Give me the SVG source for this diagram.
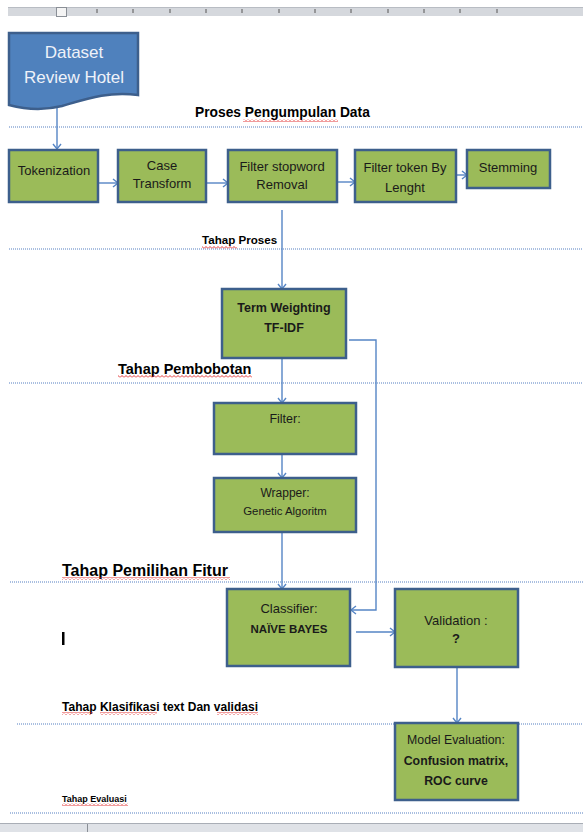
<svg xmlns="http://www.w3.org/2000/svg" width="583" height="832" viewBox="0 0 583 832">
<defs>
<style>
.box{fill:#9bbb59;stroke:#3d5f8c;stroke-width:2.5}
.t{font-family:"Liberation Sans",Arial,sans-serif;fill:#1a1a1a;text-anchor:middle}
.b{font-weight:bold}
.h{font-family:"Liberation Sans",Arial,sans-serif;font-weight:bold;fill:#000}
.sep{stroke:#8eaad6;stroke-width:1.6;stroke-dasharray:1 1;fill:none}
.c{stroke:#5585c5;stroke-width:1.4;fill:none}
.tick{stroke:#555;stroke-width:1}
</style>
<marker id="ah" markerWidth="8" markerHeight="10" refX="6" refY="5" orient="auto" markerUnits="userSpaceOnUse">
<path d="M1,1 L6,5 L1,9" fill="none" stroke="#5585c5" stroke-width="1.4"/>
</marker>
<pattern id="rw" width="4" height="3" patternUnits="userSpaceOnUse">
<path d="M0,2.5 L2,0.5 L4,2.5" fill="none" stroke="#e02020" stroke-width="0.9"/>
</pattern>
<pattern id="gw" width="4" height="3" patternUnits="userSpaceOnUse">
<path d="M0,2.5 L2,0.5 L4,2.5" fill="none" stroke="#3aa23a" stroke-width="0.9"/>
</pattern>
</defs>
<rect width="583" height="832" fill="#fff"/>
<g id="ruler">
<rect x="8" y="7" width="575" height="9" fill="#d5d8dd"/>
<line x1="8" y1="7.5" x2="583" y2="7.5" stroke="#b8bcc3"/>
<g class="tick">
<line x1="97" y1="9" x2="97" y2="13"/><line x1="133" y1="9" x2="133" y2="13"/><line x1="170" y1="9" x2="170" y2="13"/><line x1="206" y1="9" x2="206" y2="13"/><line x1="242" y1="9" x2="242" y2="13"/><line x1="279" y1="9" x2="279" y2="13"/><line x1="315" y1="9" x2="315" y2="13"/><line x1="351" y1="9" x2="351" y2="13"/><line x1="388" y1="9" x2="388" y2="13"/><line x1="424" y1="9" x2="424" y2="13"/><line x1="460" y1="9" x2="460" y2="13"/><line x1="497" y1="9" x2="497" y2="13"/>
</g>
<rect x="56.5" y="7.5" width="10" height="9" fill="#f4f4f4" stroke="#8a8f96"/>
</g>
<g id="separators">
<line class="sep" x1="9" y1="127" x2="583" y2="127"/>
<line class="sep" x1="9" y1="249" x2="583" y2="249"/>
<line class="sep" x1="9" y1="383" x2="583" y2="383"/>
<line class="sep" x1="10" y1="582" x2="583" y2="582"/>
<line class="sep" x1="17" y1="724" x2="583" y2="724"/>
<line class="sep" x1="10" y1="813" x2="583" y2="813"/>
</g>
<g id="labels">
<text class="h" x="195" y="117" font-size="13.8">Proses Pengumpulan Data</text>
<text class="h" x="202" y="244" font-size="11.6">Tahap Proses</text>
<text class="h" x="118" y="374" font-size="14.5">Tahap Pembobotan</text>
<text class="h" x="62" y="576" font-size="16">Tahap Pemilihan Fitur</text>
<text class="h" x="62" y="711" font-size="12" textLength="196">Tahap Klasifikasi text Dan validasi</text>
<text class="h" x="62" y="802" font-size="9">Tahap Evaluasi</text>
<rect x="62" y="632" width="2.5" height="13" fill="#000"/>
</g>
<g id="spellcheck">
<rect x="243" y="119" width="95" height="3" fill="url(#rw)"/>
<rect x="273" y="172" width="54" height="3" fill="url(#rw)"/>
<rect x="385" y="193" width="40" height="3" fill="url(#rw)"/>
<rect x="202" y="246" width="35" height="3" fill="url(#rw)"/>
<rect x="118" y="375" width="134" height="3" fill="url(#rw)"/>
<rect x="283" y="517" width="44" height="3" fill="url(#rw)"/>
<rect x="62" y="577" width="168" height="3" fill="url(#rw)"/>
<rect x="62" y="712" width="31" height="3" fill="url(#rw)"/>
<rect x="100" y="712" width="57" height="3" fill="url(#rw)"/>
<rect x="217" y="712" width="41" height="3" fill="url(#rw)"/>
<rect x="62" y="803" width="66" height="3" fill="url(#rw)"/>
<rect x="423" y="626" width="65" height="3" fill="url(#gw)"/>
</g>
<g id="connectors">
<path class="c" marker-end="url(#ah)" d="M57,108 V149"/>
<path class="c" marker-end="url(#ah)" d="M98,183 H118"/>
<path class="c" marker-end="url(#ah)" d="M206,183 H228"/>
<path class="c" marker-end="url(#ah)" d="M337,182 H355"/>
<path class="c" marker-end="url(#ah)" d="M456,175 H467"/>
<path class="c" marker-end="url(#ah)" d="M282,210 V289"/>
<path class="c" marker-end="url(#ah)" d="M282,358 V403"/>
<path class="c" marker-end="url(#ah)" d="M282,454 V478"/>
<path class="c" marker-end="url(#ah)" d="M282,532 V589"/>
<path class="c" marker-end="url(#ah)" d="M349,340 H376 V610 H351"/>
<path class="c" marker-end="url(#ah)" d="M356,632 H395"/>
<path class="c" marker-end="url(#ah)" d="M457,667 V723"/>
</g>
<g id="dataset">
<path d="M9,33 H138 V95 C108,91 86,99 62,106 C42,111 24,109 9,105 Z" fill="#4f81bd" stroke="#3d5f8c" stroke-width="2.5"/>
<text class="t" x="74" y="58" font-size="17" style="fill:#eef2f9">Dataset</text>
<text class="t" x="74" y="83" font-size="17" style="fill:#eef2f9">Review Hotel</text>
</g>
<g id="tokenization">
<rect class="box" x="9" y="150" width="89" height="52"/>
<text class="t" x="54" y="175" font-size="13">Tokenization</text>
</g>
<g id="case-transform">
<rect class="box" x="118" y="150" width="88" height="52"/>
<text class="t" x="162" y="170" font-size="13">Case</text>
<text class="t" x="162" y="188" font-size="13">Transform</text>
</g>
<g id="filter-stopword">
<rect class="box" x="228" y="150" width="109" height="52"/>
<text class="t" x="282" y="171" font-size="13">Filter stopword</text>
<text class="t" x="282" y="189" font-size="13">Removal</text>
</g>
<g id="filter-token">
<rect class="box" x="355" y="150" width="101" height="52"/>
<text class="t" x="405" y="172" font-size="13">Filter token By</text>
<text class="t" x="405" y="192" font-size="13">Lenght</text>
</g>
<g id="stemming">
<rect class="box" x="467" y="150" width="83" height="38"/>
<text class="t" x="508" y="172" font-size="13">Stemming</text>
</g>
<g id="term-weighting">
<rect class="box" x="222" y="289" width="124" height="69"/>
<text class="t b" x="284" y="312" font-size="12.5">Term Weighting</text>
<text class="t b" x="284" y="332" font-size="12.5">TF-IDF</text>
</g>
<g id="filter">
<rect class="box" x="214" y="403" width="142" height="51"/>
<text class="t" x="285" y="423" font-size="12.5">Filter:</text>
</g>
<g id="wrapper">
<rect class="box" x="214" y="478" width="142" height="54"/>
<text class="t" x="285" y="497" font-size="12">Wrapper:</text>
<text class="t" x="285" y="515" font-size="11.4">Genetic Algoritm</text>
</g>
<g id="classifier">
<rect class="box" x="227" y="589" width="123" height="77"/>
<text class="t" x="289" y="613" font-size="13">Classifier:</text>
<text class="t b" x="289" y="633" font-size="11.5">NAÏVE BAYES</text>
</g>
<g id="validation">
<rect class="box" x="395" y="589" width="123" height="78"/>
<text class="t" x="456" y="625" font-size="13">Validation :</text>
<text class="t b" x="456" y="643" font-size="13">?</text>
</g>
<g id="model-evaluation">
<rect class="box" x="395" y="723" width="123" height="77"/>
<text class="t" x="456" y="744" font-size="12.3">Model Evaluation:</text>
<text class="t b" x="456" y="765" font-size="12.3">Confusion matrix,</text>
<text class="t b" x="456" y="785" font-size="12.3">ROC curve</text>
</g>
<g id="statusbar">
<rect x="0" y="823" width="583" height="9" fill="#dfe2e7"/>
<line x1="0" y1="823.5" x2="583" y2="823.5" stroke="#a9aeb6"/>
<line x1="87.5" y1="824" x2="87.5" y2="832" stroke="#8a8f96"/>
</g>
</svg>
